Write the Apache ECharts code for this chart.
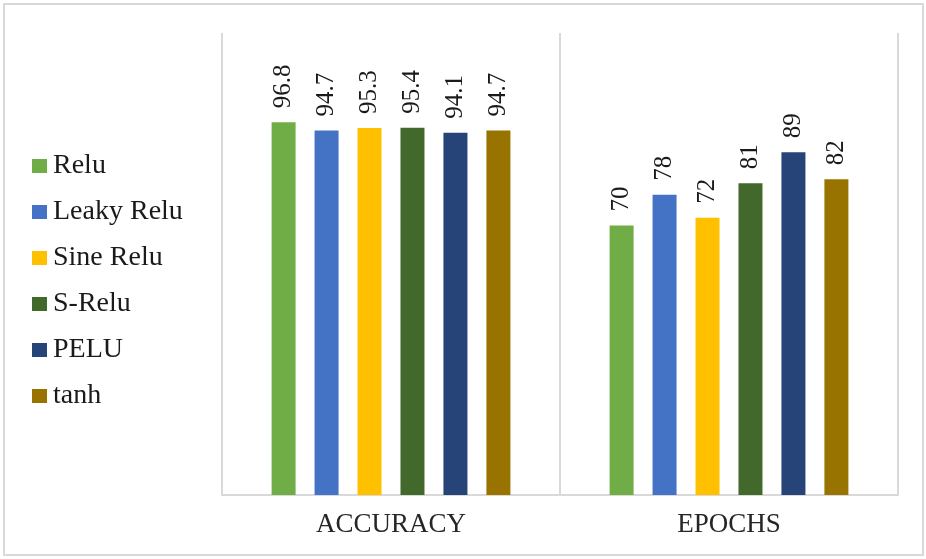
<!DOCTYPE html>
<html>
<head>
<meta charset="utf-8">
<script src="https://cdn.jsdelivr.net/npm/echarts@6/dist/echarts.min.js"></script>
<style>
    html, body { margin: 0; padding: 0; background: #fff; }
    #chart { width: 926px; height: 559px; }
</style>
</head>
<body>
<div id="chart"></div>
<script>
var categories = ['ACCURACY', 'EPOCHS'];
var seriesNames = ['Relu', 'Leaky Relu', 'Sine Relu', 'S-Relu', 'PELU', 'tanh'];
var relu = [96.8, 70];
var leakyRelu = [94.7, 78];
var sineRelu = [95.3, 72];
var sRelu = [95.4, 81];
var pelu = [94.1, 89];
var tanh = [94.7, 82];
var colors = ['#70AD47', '#4472C4', '#FFC000', '#43682B', '#264478', '#997300'];

var font = '"Liberation Serif", "Times New Roman", serif';
var allData = [relu, leakyRelu, sineRelu, sRelu, pelu, tanh];

var series = seriesNames.map(function (name, i) {
    return {
        name: name,
        type: 'bar',
        data: allData[i],
        barWidth: 24,
        barGap: '79%',
        itemStyle: { color: colors[i] },
        label: {
            show: true,
            position: 'top',
            rotate: 90,
            align: 'left',
            verticalAlign: 'middle',
            distance: 14,
            fontFamily: font,
            fontSize: 25,
            color: '#1a1a1a'
        }
    };
});

var chart = echarts.init(document.getElementById('chart'));
chart.setOption({
    animation: false,
    backgroundColor: '#fff',
    color: colors,
    graphic: [{
        type: 'rect',
        shape: { x: 4, y: 4, width: 919, height: 551 },
        style: { fill: 'none', stroke: '#d9d9d9', lineWidth: 2 },
        silent: true
    }],
    legend: {
        orient: 'vertical',
        left: 27,
        top: 147,
        itemWidth: 15,
        itemHeight: 14,
        itemGap: 18,
        icon: 'rect',
        textStyle: { fontFamily: font, fontSize: 28, color: '#1a1a1a', padding: [0, 0, 0, 1] }
    },
    grid: { left: 222, right: 28, top: 33, bottom: 64 },
    xAxis: {
        type: 'category',
        data: categories,
        axisLine: { lineStyle: { color: '#d9d9d9', width: 2 } },
        axisTick: { show: false },
        splitLine: { show: true, interval: 0, lineStyle: { color: '#d9d9d9', width: 2 } },
        axisLabel: { fontFamily: font, fontSize: 27, color: '#262626', margin: 16 }
    },
    yAxis: {
        type: 'value',
        min: 0,
        max: 120,
        show: false,
        splitLine: { show: false }
    },
    series: series
});
</script>
</body>
</html>
